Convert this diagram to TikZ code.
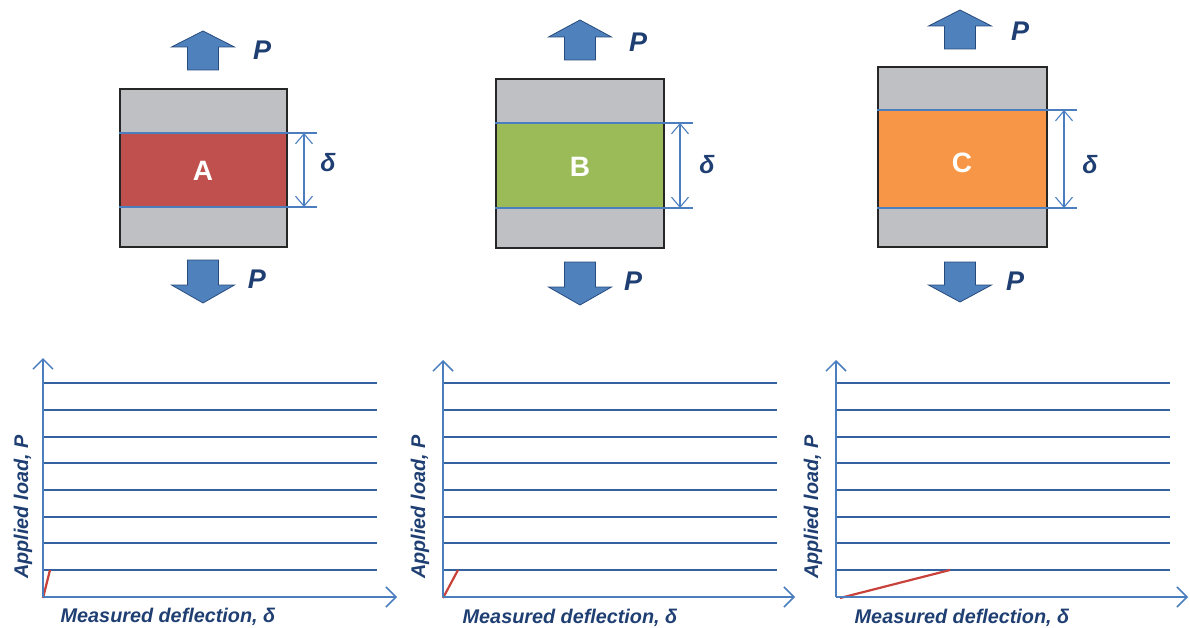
\documentclass[tikz,border=0pt]{standalone}
\usepackage{fontspec}
\setmainfont{Liberation Sans}
\usetikzlibrary{arrows.meta}
\definecolor{axblue}{HTML}{4A7EBF}
\definecolor{gridblue}{HTML}{3462A0}
\definecolor{txtnavy}{HTML}{1F3F73}
\definecolor{arrfill}{HTML}{4F81BD}
\definecolor{arrdraw}{HTML}{264A7C}
\definecolor{boxgray}{HTML}{BFC0C4}
\definecolor{bandred}{HTML}{C0504D}
\definecolor{bandgreen}{HTML}{9BBB59}
\definecolor{bandorange}{HTML}{F79646}
\definecolor{curvered}{HTML}{C8423C}
\tikzset{
  blockarrow/.style={fill=arrfill, draw=arrdraw, line width=0.8pt, line join=miter},
  specimen/.style={draw=black!85, line width=1.3pt},
  dimline/.style={draw=axblue, line width=1.4pt},
  dimarrow/.style={draw=axblue, line width=1.1pt, {Straight Barb[length=10pt,width=17pt]}-{Straight Barb[length=10pt,width=17pt]}},
  plabel/.style={text=txtnavy, font=\fontsize{27}{29}\selectfont\bfseries\itshape},
  dlabel/.style={text=txtnavy, font=\fontsize{25}{27}\selectfont\bfseries\itshape},
  letter/.style={text=white, font=\fontsize{28}{30}\selectfont\bfseries},
  axis/.style={draw=axblue, line width=1.5pt, -{Straight Barb[length=10pt,width=20pt]}},
  gridline/.style={draw=gridblue, line width=2pt},
  curve/.style={draw=curvered, line width=2.2pt},
  axlabel/.style={text=txtnavy, font=\fontsize{19.8}{21}\selectfont\bfseries\itshape}
}
\newcommand\UpArr[4]{% cx, tip, base, bottom
  \draw[blockarrow] (#1,#2) -- (#1+31.5,#3) -- (#1+15.5,#3) -- (#1+15.5,#4) -- (#1-15.5,#4) -- (#1-15.5,#3) -- (#1-31.5,#3) -- cycle;}
\newcommand\DownArr[4]{% cx, top, base, tip
  \draw[blockarrow] (#1-15.5,#2) -- (#1+15.5,#2) -- (#1+15.5,#3) -- (#1+31.5,#3) -- (#1,#4) -- (#1-31.5,#3) -- (#1-15.5,#3) -- cycle;}
\newcommand\Specimen[9]{% name, left, right, boxtop, boxbottom, bandtop, bandbottom, dimx, colour
  \fill[boxgray] (#2,#4) rectangle (#3,#5);
  \fill[#9] (#2-1,#6) rectangle (#3,#7);
  \draw[specimen] (#2,#4) rectangle (#3,#5);
  \coordinate (#1t) at (#8,#6);
  \coordinate (#1b) at (#8,#7);
  \draw[dimline] (#2-1,#6) -- (#8+13,#6);
  \draw[dimline] (#2-1,#7) -- (#8+13,#7);
  \draw[dimarrow] (#1t) -- (#1b);}
\newcommand\Chart[7]{% name, x0, ytop, xend, gridend, redx, redy0
  \coordinate (#1o) at (#2,597);
  \coordinate (#1y) at (#2,#3);
  \coordinate (#1x) at (#4,597);
  \foreach \gy in {383,410,437,463,490,517,543,570} {\draw[gridline] (#2,\gy) -- (#5,\gy);}
  \coordinate (#1r0) at (#2+#7,598);
  \coordinate (#1r1) at (#6,570);
  \draw[curve] (#1r0) -- (#1r1);
  \draw[axis] (#1o) -- (#1y);
  \draw[axis] (#1o) -- (#1x);}
\begin{document}
\begin{tikzpicture}[x=1pt,y=-1pt]
\useasboundingbox (0,0) rectangle (1190,628);
% ---------- Panel A ----------
\UpArr{203}{31}{47}{70}
\node[plabel] (pAu) at (262,50) {P};
\Specimen{A}{120}{287}{89}{247}{133}{207}{304}{bandred}
\node[letter] (lA) at (203,171) {A};
\node[dlabel] (dA) at (328,163) {δ};
\DownArr{203}{260}{285}{303}
\node[plabel] (pAd) at (257,279) {P};
% ---------- Panel B ----------
\UpArr{580}{20}{37}{60}
\node[plabel] (pBu) at (638,42) {P};
\Specimen{B}{496}{664}{79}{248}{123}{208}{680}{bandgreen}
\node[letter] (lB) at (580,167) {B};
\node[dlabel] (dB) at (707,165) {δ};
\DownArr{580}{262}{287}{305}
\node[plabel] (pBd) at (633,281) {P};
% ---------- Panel C ----------
\UpArr{960}{10}{26}{49}
\node[plabel] (pCu) at (1020,31) {P};
\Specimen{C}{878}{1047}{67}{247}{110}{208}{1064}{bandorange}
\node[letter] (lC) at (962,163) {C};
\node[dlabel] (dC) at (1090,165) {δ};
\DownArr{960}{262}{285}{302}
\node[plabel] (pCd) at (1015,281) {P};
% ---------- Charts ----------
\Chart{GA}{43}{358}{397}{377}{50}{0}
\node[axlabel, rotate=90] (yA) at (23,507) {Applied load, P};
\node[axlabel] (xA) at (168,617) {Measured deflection, δ};
\Chart{GB}{443}{360}{795}{777}{458}{0}
\node[axlabel, rotate=90] (yB) at (420,507) {Applied load, P};
\node[axlabel] (xB) at (570,618) {Measured deflection, δ};
\Chart{GC}{836}{360}{1188}{1170}{950}{4}
\node[axlabel, rotate=90] (yC) at (813,507) {Applied load, P};
\node[axlabel] (xC) at (962,618) {Measured deflection, δ};
\end{tikzpicture}
\end{document}
